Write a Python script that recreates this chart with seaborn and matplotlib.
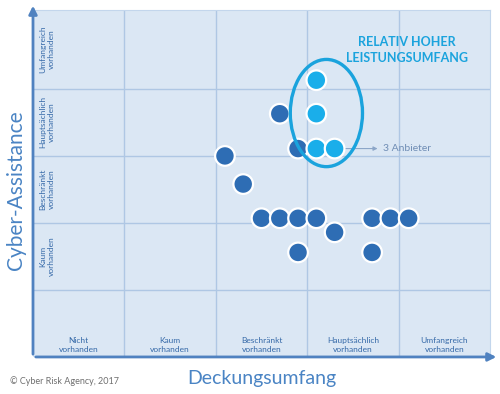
import matplotlib
matplotlib.use('Agg')
import matplotlib.pyplot as plt
from matplotlib.patches import Ellipse
import seaborn as sns
import pandas as pd

# Deckungsumfang (x) / Cyber-Assistance (y), 0..5 = category columns/rows
x_vals = [2.1, 2.3, 2.7, 2.9, 2.5, 2.7, 2.9, 3.1, 3.71, 3.91, 4.11, 3.3, 2.9, 3.71,
          3.1, 3.1, 3.1, 3.3]
y_vals = [3.0, 2.58, 3.63, 3.11, 2.07, 2.07, 2.07, 2.07, 2.07, 2.07, 2.07, 1.86, 1.56, 1.56,
          4.13, 3.63, 3.11, 3.11]
group = ['normal'] * 14 + ['hoch'] * 4

x_labels = ['Nicht\nvorhanden', 'Kaum\nvorhanden', 'Beschränkt\nvorhanden',
            'Hauptsächlich\nvorhanden', 'Umfangreich\nvorhanden']
y_labels = ['Kaum\nvorhanden', 'Beschränkt\nvorhanden',
            'Hauptsächlich\nvorhanden', 'Umfangreich\nvorhanden']

df = pd.DataFrame({'x': x_vals, 'y': y_vals, 'group': group})

sns.set_style('white')
plt.rcParams['font.family'] = ['Lato', 'DejaVu Sans']

dark = '#2E6DB4'
light = '#1AAEEA'
ytop = 5.18

fig = plt.figure(figsize=(5, 3.94), dpi=100)
ax = fig.add_axes([0.066, 0.094, 0.914, 0.881])
ax.set_facecolor('#DBE7F4')

sns.scatterplot(data=df, x='x', y='y', hue='group', palette={'normal': dark, 'hoch': light},
                s=200, edgecolor='white', linewidth=1.6, legend=False, ax=ax, zorder=3)

ax.set_xlim(0, 5)
ax.set_ylim(0, ytop)
ax.set_xticks([1, 2, 3, 4])
ax.set_yticks([1, 2, 3, 4])
ax.grid(True, color='#AFC7E4', linewidth=1)
ax.tick_params(length=0, labelbottom=False, labelleft=False)
ax.set_xlabel('')
ax.set_ylabel('')
for side in ['top', 'right']:
    ax.spines[side].set_color('#C3D6EC')
for side in ['left', 'bottom']:
    ax.spines[side].set_visible(False)

# category labels inside the grid
for i, lab in enumerate(x_labels):
    ax.text(i + 0.5, 0.18, lab, ha='center', va='center', fontsize=6,
            color='#3569A8', linespacing=1.3)
y_centers = [1.5, 2.5, 3.5, (4 + ytop) / 2]
for yc, lab in zip(y_centers, y_labels):
    ax.text(0.15, yc, lab, ha='center', va='center', rotation=90, fontsize=6,
            color='#3569A8', linespacing=1.3)

# axis arrows
arrow_col = '#5082C0'
ax.annotate('', xy=(1.02, 0), xytext=(0, 0), xycoords='axes fraction',
            arrowprops=dict(arrowstyle='-|>', color=arrow_col, lw=2, mutation_scale=12),
            annotation_clip=False)
ax.annotate('', xy=(0, 1.02), xytext=(0, 0), xycoords='axes fraction',
            arrowprops=dict(arrowstyle='-|>', color=arrow_col, lw=2, mutation_scale=12),
            annotation_clip=False)

# highlight
ax.add_patch(Ellipse((3.21, 3.64), 0.79, 1.6, fill=False, edgecolor='#1AA3DD', lw=2.4, zorder=4))
ax.text(4.09, 4.58, 'RELATIV HOHER\nLEISTUNGSUMFANG', ha='center', va='center', fontsize=9,
        fontweight='bold', color='#1AA3DD', linespacing=1.35)
ax.annotate('3 Anbieter', xy=(3.78, 3.11), xytext=(3.83, 3.11), va='center', fontsize=7.5,
            color='#6F8DB5')
ax.annotate('', xy=(3.8, 3.11), xytext=(3.36, 3.11),
            arrowprops=dict(arrowstyle='-|>', color='#8CA6C8', lw=0.8, mutation_scale=6), zorder=2)

fig.text(0.032, 0.518, 'Cyber-Assistance', rotation=90, ha='center', va='center',
         fontsize=15, color='#4A84C4')
fig.text(0.524, 0.04, 'Deckungsumfang', ha='center', va='center', fontsize=14, color='#4A84C4')
fig.text(0.02, 0.033, '© Cyber Risk Agency, 2017', ha='left', va='center', fontsize=6.5,
         color='#707070')

fig.savefig('out.png', dpi=100)
